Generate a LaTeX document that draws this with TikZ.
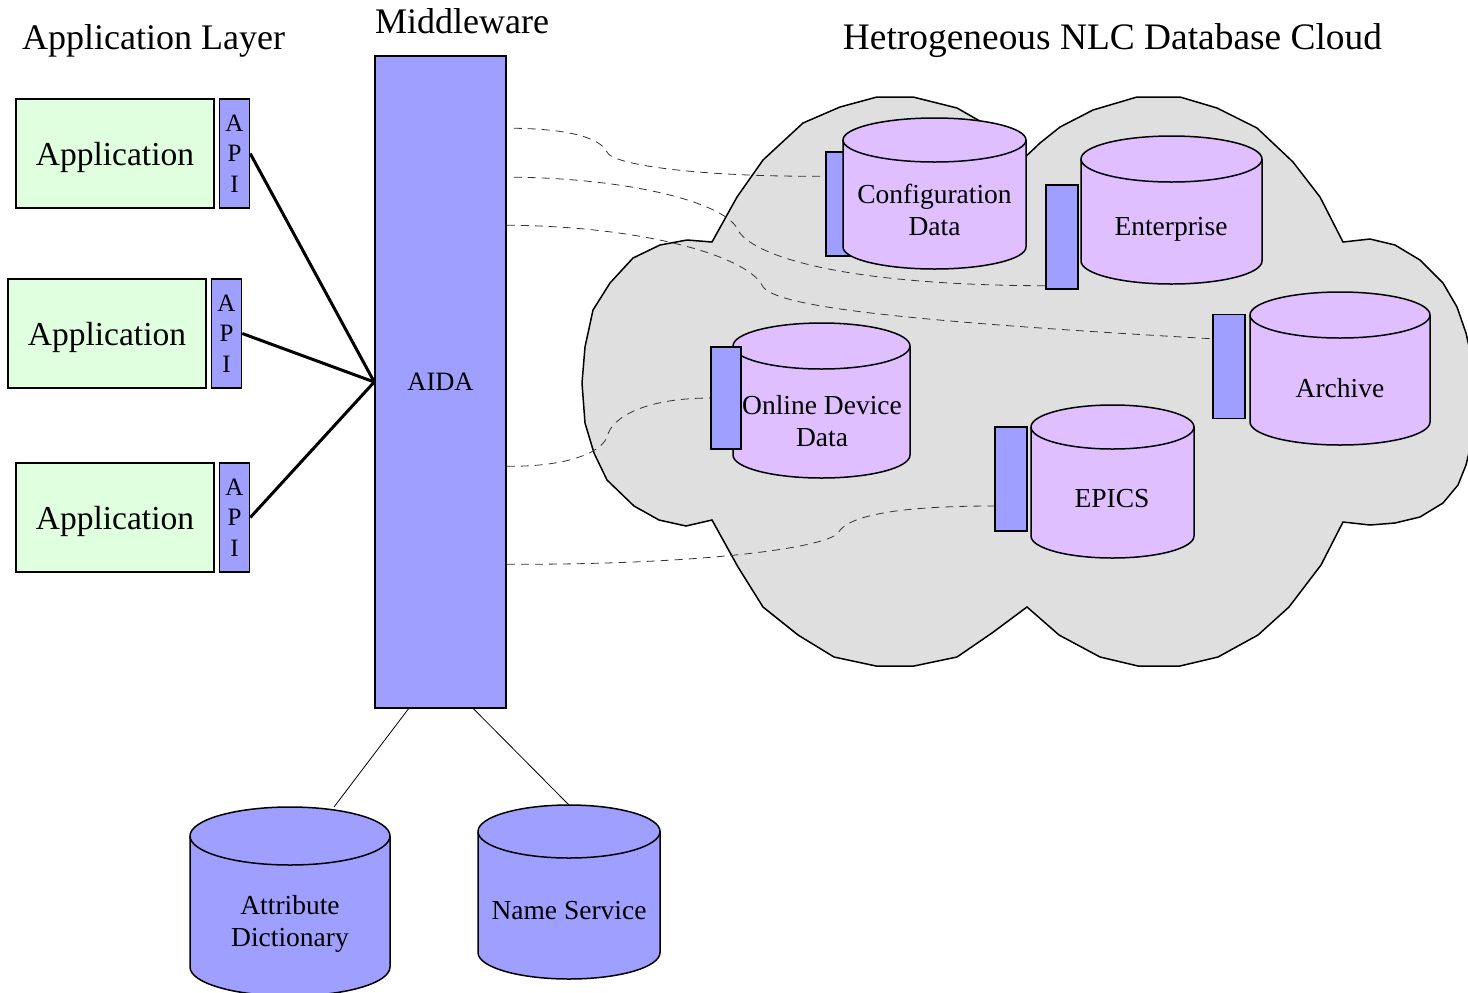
\documentclass[tikz,border=0pt]{standalone}
\usepackage{fontspec}
\setmainfont{Liberation Serif}
\usetikzlibrary{shapes.geometric, arrows, positioning}
\definecolor{appgreen}{RGB}{223,255,223}
\definecolor{aidablue}{RGB}{159,159,255}
\definecolor{dbpurple}{RGB}{223,191,255}
\definecolor{cloudgray}{RGB}{223,223,223}
\newcommand{\dbdraw}[4]{%
  \filldraw[draw=black, line width=0.75pt, fill=#4] ([yshift=-#3]#1.north west) -- ([yshift=#3]#1.south west) arc[start angle=180, end angle=360, x radius=#2, y radius=#3] -- ([yshift=-#3]#1.north east) arc[start angle=0, end angle=180, x radius=#2, y radius=#3] -- cycle;
  \draw[line width=0.75pt] ([yshift=-#3]#1.north west) arc[start angle=180, end angle=360, x radius=#2, y radius=#3];}

\begin{document}
\begin{tikzpicture}[x=0.5pt, y=-0.5pt]
\tikzstyle{app} = [rectangle, minimum width=99pt, minimum height=54.5pt, inner sep=0pt, text centered, text depth=0pt, draw=black, line width=0.75pt, fill=appgreen, font=\fontsize{16.75}{20}\selectfont]
\tikzstyle{api} = [rectangle, minimum width=15pt, minimum height=54.5pt, inner sep=0pt, align=center, draw=black, line width=0.75pt, fill=aidablue, font=\fontsize{12.5}{15.25}\selectfont]
\tikzstyle{iface} = [rectangle, minimum width=16pt, minimum height=52pt, inner sep=0pt, draw=black, line width=0.75pt, fill=aidablue]
\tikzstyle{dbbox} = [rectangle, inner sep=0pt, outer sep=0pt]
\tikzstyle{dbtext} = [align=center, inner sep=0pt, font=\fontsize{13.75}{16}\selectfont]
\tikzstyle{title} = [font=\fontsize{18}{22}\selectfont, inner sep=0pt, anchor=base]
\tikzstyle{link} = [line width=1.5pt]
\tikzstyle{dblink} = [dash pattern=on 4pt off 3pt, line width=0.4pt, black!80]

\useasboundingbox (0,0) rectangle (1468,992);

\draw[fill=cloudgray, line width=0.75pt] (712,242) -- (737,197) -- (763,160) -- (803,123) -- (840,107) -- (877,97) -- (913,97) -- (957,108) -- (985,124) -- (1005,142) -- (1020,162) -- (1040,143) -- (1060,127) -- (1093,110) -- (1137,97) -- (1180,97) -- (1217,108) -- (1257,128) -- (1293,162) -- (1320,197) -- (1343,242) -- (1370,239) -- (1395,245) -- (1420,260) -- (1443,283) -- (1457,307) -- (1466,333) -- (1472,360) -- (1474,400) -- (1472,440) -- (1466,465) -- (1458,485) -- (1443,503) -- (1420,517) -- (1395,523) -- (1370,525) -- (1343,522) -- (1321,565) -- (1289,607) -- (1258,635) -- (1218,657) -- (1180,666) -- (1138,666) -- (1100,657) -- (1059,635) -- (1027,607) -- (992,633) -- (957,657) -- (914,666) -- (876,666) -- (834,657) -- (798,635) -- (763,607) -- (738,567) -- (712,520) -- (686,526) -- (659,520) -- (634,506) -- (607,480) -- (594,453) -- (585,423) -- (582,383) -- (585,347) -- (593,310) -- (610,283) -- (633,258) -- (660,245) -- (687,240) -- cycle;

\node (applayer) [title] at (153.5,49) {Application Layer};
\node (midware) [title] at (462,33) {Middleware};
\node (cloudtitle) [title, font=\fontsize{18.7}{22}\selectfont] at (1112.5,49) {Hetrogeneous NLC Database Cloud};

\node (app1) [app] at (115,153.5) {Application};
\node (api1) [api, right=2pt of app1] {A\\P\\I};
\node (app2) [app] at (107,333.5) {Application};
\node (api2) [api, right=2pt of app2] {A\\P\\I};
\node (app3) [app] at (115,517.5) {Application};
\node (api3) [api, right=2pt of app3] {A\\P\\I};

\node (aida) [rectangle, draw=black, line width=0.75pt, fill=aidablue, minimum width=65.5pt, minimum height=326pt, font=\fontsize{13.25}{16}\selectfont] at (440.5,382) {AIDA};

\node (cfgif) [iface] at (842,204) {};
\node (entif) [iface] at (1062,237) {};
\node (arcif) [iface] at (1229,366.5) {};
\node (epicsif) [iface] at (1011,479) {};

\draw [dblink] ([xshift=3.5pt,yshift=-36.5pt]aida.north east) .. controls (570,129) and (600,138) .. (607,152) .. controls (612,165) and (700,177) .. ([yshift=-12.5pt]cfgif.north west);
\draw [dblink] ([xshift=3.5pt,yshift=-61pt]aida.north east) .. controls (620,178) and (720,200) .. (737,228) .. controls (745,250) and (820,285) .. ([yshift=2pt]entif.south west);
\draw [dblink] ([yshift=-85pt]aida.north east) .. controls (640,226) and (745,255) .. (762,285) .. controls (770,305) and (880,320) .. ([yshift=-12.5pt]arcif.north west);
\draw [dblink] ([yshift=-254.5pt]aida.north east) .. controls (700,565) and (825,548) .. (838,533) .. controls (848,515) and (900,506) .. ([yshift=-13.5pt]epicsif.west);

\node (cfg) [dbbox, minimum width=91.5pt, minimum height=75.5pt] at (934.5,193.5) {};
\dbdraw{cfg}{45.75pt}{11pt}{dbpurple}
\node (cfgtext) [dbtext] at (934.5,210) {Configuration\\Data};

\node (ent) [dbbox, minimum width=90.5pt, minimum height=74pt] at (1171.5,210) {};
\dbdraw{ent}{45.25pt}{11.5pt}{dbpurple}
\node (enttext) [dbtext] at (1171,229) {Enterprise};

\node (arc) [dbbox, minimum width=90pt, minimum height=76.5pt] at (1340,368.5) {};
\dbdraw{arc}{45pt}{11.5pt}{dbpurple}
\node (arctext) [dbtext] at (1340,388) {Archive};

\node (epics) [dbbox, minimum width=81.5pt, minimum height=76.5pt] at (1112.5,481.5) {};
\dbdraw{epics}{40.75pt}{11pt}{dbpurple}
\node (epicstext) [dbtext] at (1112,499) {EPICS};

\node (odd) [dbbox, minimum width=88.5pt, minimum height=77.5pt] at (821.5,400.5) {};
\dbdraw{odd}{44.25pt}{11.5pt}{dbpurple}
\node (oddtext) [dbtext] at (822,421) {Online Device\\Data};
\node (oddif) [iface, minimum width=15pt, minimum height=51pt] at (726,398) {};

\draw [dblink] ([yshift=-205.5pt]aida.north east) .. controls (560,467) and (600,455) .. (607,437) .. controls (612,415) and (650,398) .. (oddif.west);

\node (attr) [dbbox, minimum width=100pt, minimum height=94.5pt] at (290,901.5) {};
\dbdraw{attr}{50pt}{14.5pt}{aidablue}
\node (attrtext) [dbtext] at (290,924) {Attribute\\Dictionary};

\node (names) [dbbox, minimum width=91pt, minimum height=87pt] at (569,892) {};
\dbdraw{names}{45.5pt}{13.25pt}{aidablue}
\node (namestext) [dbtext] at (569,911) {Name Service};

\draw [link] (api1.east) -- (aida.west);
\draw [link] (api2.east) -- (aida.west);
\draw [link] (api3.east) -- (aida.west);
\draw [line width=0.4pt] ([xshift=-16pt]aida.south) -- ([xshift=22pt]attr.north);
\draw [line width=0.4pt] ([xshift=16.5pt]aida.south) -- (names.north);

\end{tikzpicture}
\end{document}
